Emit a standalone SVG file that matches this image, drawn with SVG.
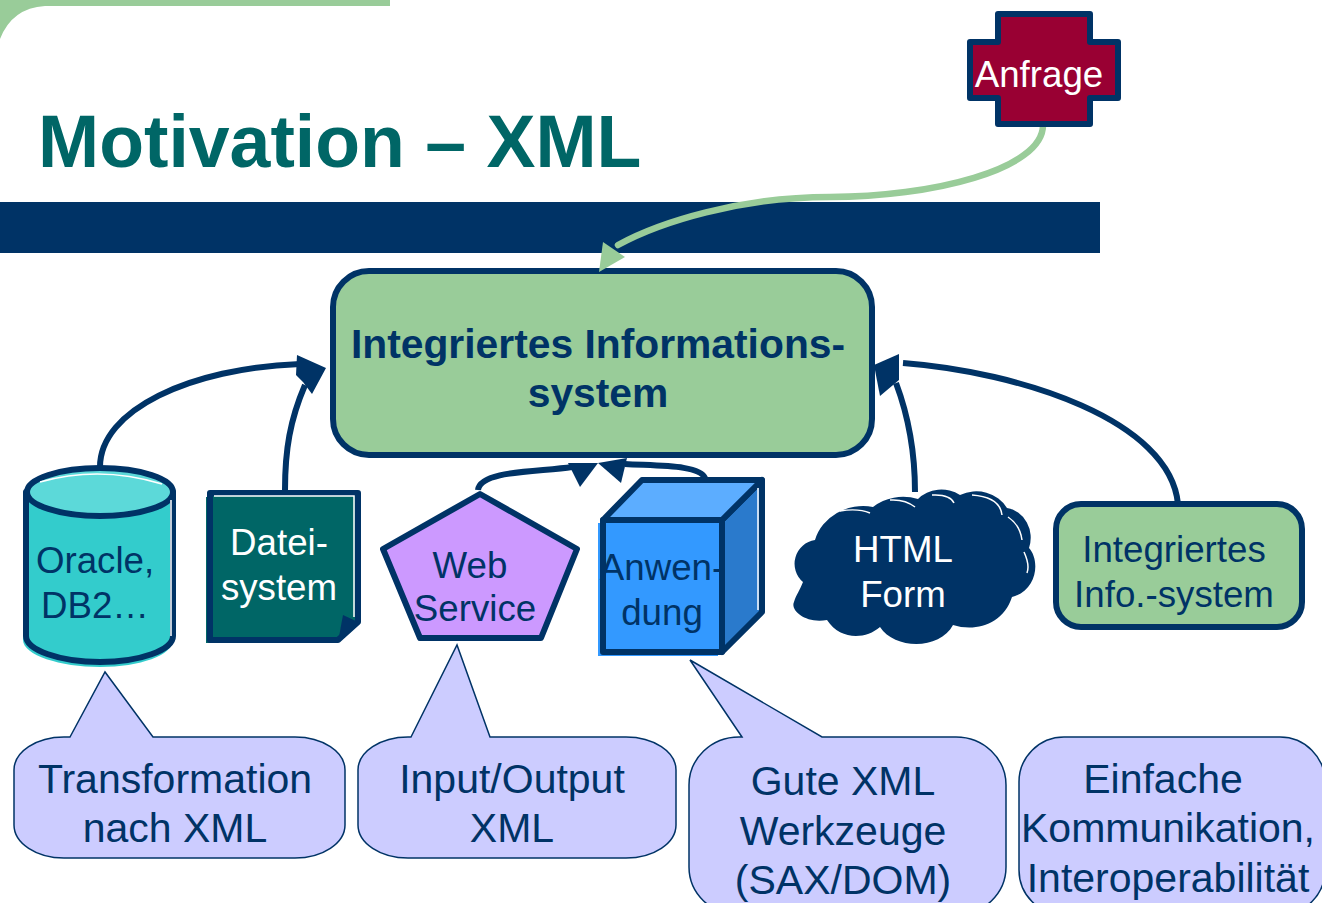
<svg xmlns="http://www.w3.org/2000/svg" width="1322" height="903" viewBox="0 0 1322 903">
<style>
text{font-family:"Liberation Sans",Arial,sans-serif;text-anchor:middle;fill:#003366;font-size:36.7px}
.w{fill:#fff}
.b{font-weight:bold}
.c{font-size:41px}
.n{stroke:#003366;stroke-width:6;stroke-linejoin:round}
.l{fill:none;stroke:#003366;stroke-width:6}
.h{fill:#003366}
.s{fill:#ccf;stroke:#003366;stroke-width:1.5}
.hi{fill:none;stroke:#fff;stroke-width:1.5}
</style>
<rect width="1322" height="903" fill="#fff"/>
<g id="header">
<path d="M0 0H390V6H45Q12 8 0 39Z" fill="#9c9"/>
<text x="38" y="167" style="font-size:73.4px;font-weight:bold;fill:#066;text-anchor:start">Motivation – XML</text>
<rect x="0" y="202" width="1100" height="51" fill="#036"/>
</g>
<g id="system">
<rect x="333" y="271" width="539" height="184" rx="36" fill="#9c9" class="n"/>
<text x="598" y="358" class="b" style="font-size:40.8px">Integriertes Informations-</text>
<text x="598" y="407" class="b" style="font-size:40.8px">system</text>
</g>
<g id="connectors">
<path class="l" d="M100 467C100 410 190 368 300 364"/>
<path class="l" d="M285 490C285 450 290 420 305 385"/>
<path class="h" d="M297 355L326 368L312 394L303 382L296 375Z"/>
<path class="l" d="M903 363C1020 372 1170 420 1178 504"/>
<path class="l" d="M915 492C915 450 908 415 896 383"/>
<path class="h" d="M899 354L874 365L880 396L899 380Z"/>
<path class="l" d="M478 490C480 470 540 472 572 467"/>
<path class="h" d="M568 463H598L580 487Z"/>
<path class="l" d="M705 478C700 465 660 466 625 464"/>
<path class="h" d="M598 463L627 458L621 483Z"/>
<path d="M1043 125C1043 170 930 197 830 197C740 197 660 222 618 245" fill="none" stroke="#9c9" stroke-width="6.5" stroke-linecap="round"/>
<path d="M603 242L625 257L599 272Z" fill="#9c9"/>
</g>
<g id="anfrage">
<path class="n" fill="#903" d="M998 14H1090V42H1118V98H1090V124H998V98H970V42H998Z"/>
<text x="1039" y="87" class="w">Anfrage</text>
</g>
<g id="oracle">
<path fill="#3cc" d="M23 492V640C23 655 60 667 100 667C140 667 173 655 173 640V492Z"/>
<path class="n" fill="#3cc" d="M26 492V636C26 650 60 662 100 662C140 662 173 650 173 636V492Z"/>
<ellipse cx="100" cy="492" rx="73" ry="24" fill="#5cd9d9" class="n"/>
<path class="hi" d="M40 482Q100 465 162 484M171 500V636"/>
<text x="95" y="573">Oracle,</text>
<text x="95" y="618">DB2…</text>
</g>
<g id="datei">
<rect x="206" y="497" width="132" height="146" fill="#066"/>
<path class="n" fill="#066" d="M210 493H358V622L338 640H210Z"/>
<path class="hi" d="M214 496H354V617" stroke-width="1"/>
<path class="h" d="M343 615L358 622L338 642Z"/>
<text x="279" y="555" class="w">Datei-</text>
<text x="279" y="600" class="w">system</text>
</g>
<g id="webservice">
<path class="n" fill="#c9f" d="M480 494L577 549L541 638H420L383 549Z"/>
<text x="470" y="578">Web</text>
<text x="475" y="621">Service</text>
</g>
<g id="anwendung">
<rect x="598" y="523" width="120" height="133" fill="#39f"/>
<path class="n" fill="#2a7acc" d="M722 520L762 480V612L722 652Z"/>
<path class="n" fill="#5cadff" d="M603 520L642 480H762L722 520Z"/>
<rect x="603" y="520" width="119" height="132" fill="#39f" class="n"/>
<path class="hi" d="M758 488V610"/>
<text x="662" y="580">Anwen-</text>
<text x="662" y="625">dung</text>
</g>
<g id="htmlform">
<path fill="#036" d="M803 582A24 24 0 0 1 815 540A50 46 0 0 1 873 507A40 30 0 0 1 918 499A30 25 0 0 1 960 495A35 32 0 0 1 1007 508A28 30 0 0 1 1029 548C1040 560 1038 590 1012 597C1003 625 975 632 953 625C940 650 895 650 880 627C865 640 840 640 827 620C805 624 790 610 794 602C796 595 800 590 803 582Z"/>
<path class="hi" d="M840 511Q858 508 870 513M890 500Q905 499 915 507M932 495Q950 494 954 503M972 495Q1000 497 1002 515M1008 517Q1020 525 1022 540M1024 552Q1030 565 1027 573"/>
<text x="903" y="562" class="w">HTML</text>
<text x="903" y="607" class="w">Form</text>
</g>
<g id="info">
<rect x="1056" y="504" width="246" height="123" rx="25" fill="#9c9" class="n"/>
<text x="1174" y="562">Integriertes</text>
<text x="1174" y="607">Info.-system</text>
</g>
<g id="callout1">
<path class="s" d="M70 737L105 672L153 737H295A50 33 0 0 1 345 770V825A50 33 0 0 1 295 858H64A50 33 0 0 1 14 825V770A50 33 0 0 1 64 737Z"/>
<text x="175" y="793" class="c">Transformation</text>
<text x="175" y="842" class="c">nach XML</text>
</g>
<g id="callout2">
<path class="s" d="M411 737L457 645L490 737H626A50 33 0 0 1 676 770V825A50 33 0 0 1 626 858H408A50 33 0 0 1 358 825V770A50 33 0 0 1 408 737Z"/>
<text x="512" y="793" class="c">Input/Output</text>
<text x="512" y="842" class="c">XML</text>
</g>
<g id="callout3">
<path class="s" d="M742 737L690 660L822 737H956A50 48 0 0 1 1006 785V867A50 48 0 0 1 956 915H739A50 48 0 0 1 689 867V785A50 48 0 0 1 739 737Z"/>
<text x="843" y="795" class="c">Gute XML</text>
<text x="843" y="845" class="c">Werkzeuge</text>
<text x="843" y="894" class="c">(SAX/DOM)</text>
</g>
<g id="callout4">
<path class="s" d="M1064 737H1280A45 45 0 0 1 1325 782V870A45 45 0 0 1 1280 915H1064A45 45 0 0 1 1019 870V782A45 45 0 0 1 1064 737Z"/>
<text x="1163" y="793" class="c">Einfache</text>
<text x="1168" y="842" class="c">Kommunikation,</text>
<text x="1168" y="892" class="c">Interoperabilität</text>
</g>
</svg>
